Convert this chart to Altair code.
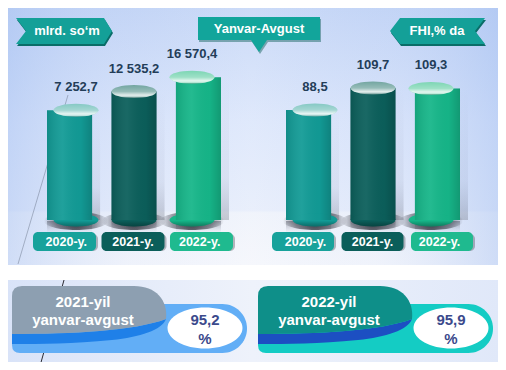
import altair as alt
import pandas as pd

# ---------------- data ----------------
years = ["2020-y.", "2021-y.", "2022-y."]
output_values = [7252.7, 12535.2, 16570.4]     # mlrd. so‘m
growth_values = [88.5, 109.7, 109.3]           # FHI, % da
bar_colors = ["#129b96", "#0b5f5b", "#16b689"]
cap_colors = ["#86c9c4", "#73a6a1", "#7dd6b4"]
box_colors = ["#17a29b", "#0b5e5a", "#1fba8f"]

summary_periods = ["2021-yil", "2022-yil"]
summary_subtitle = "yanvar-avgust"
summary_values = [95.2, 95.9]
tab_colors = ["#8d9fb1", "#0e8f89"]
ribbon_colors = ["#62aef6", "#14ccc4"]
stripe_colors = ["#1f80e8", "#1c4fc2"]

unit_left = "mlrd. so‘m"
unit_right = "FHI,% da"
period_title = "Yanvar-Avgust"

# ---------------- helpers ----------------
FONT = "Liberation Sans"
O = 8  # page margin: chart px = picture px - O


def P(v):
    return v - O


def fmt(v):
    return f"{v:,.1f}".replace(",", " ").replace(".", ",")


def gradient(stops, x1=0.0, y1=0.0, x2=0.0, y2=1.0):
    return alt.LinearGradient(
        gradient="linear",
        stops=[alt.GradientStop(offset=o, color=c) for o, c in stops],
        x1=x1, y1=y1, x2=x2, y2=y2,
    )


def ellipse(rx, ry, cx=0.0, cy=0.0):
    return (f"M{cx - rx} {cy} A{rx} {ry} 0 1 1 {cx + rx} {cy} "
            f"A{rx} {ry} 0 1 1 {cx - rx} {cy} Z")


ONE = pd.DataFrame({"k": [0]})


def deco_path(path, fill):
    return alt.Chart(ONE).mark_point(
        shape=path, size=4, filled=True, fill=fill, opacity=1, strokeWidth=0
    ).encode(x=alt.value(-O), y=alt.value(-O))


def deco_rect(x1, y1, x2, y2, fill):
    return alt.Chart(ONE).mark_rect(fill=fill).encode(
        x=alt.value(P(x1)), x2=alt.value(P(x2)),
        y=alt.value(P(y1)), y2=alt.value(P(y2)))


def deco_text(txt, x, y, size=13, color="white", weight="bold"):
    return alt.Chart(ONE).mark_text(
        text=txt, font=FONT, fontSize=size, fontWeight=weight, color=color,
        align="center", baseline="middle"
    ).encode(x=alt.value(P(x)), y=alt.value(P(y)))


def deco_line(x1, y1, x2, y2, color, width=1.0):
    return alt.Chart(ONE).mark_rule(color=color, strokeWidth=width).encode(
        x=alt.value(P(x1)), x2=alt.value(P(x2)),
        y=alt.value(P(y1)), y2=alt.value(P(y2)))


BOTTOM = P(220)


def side(values, bar_rng, y_dom, box_rng, box_pad):
    df = pd.DataFrame({
        "year": years, "value": values,
        "label": [fmt(v) for v in values],
        "bar": bar_colors, "cap": cap_colors, "box": box_colors,
    })
    base = alt.Chart(df)
    xb = alt.X("year:N", scale=alt.Scale(domain=years, range=bar_rng,
                                         paddingInner=0.3, paddingOuter=0), axis=None)
    xk = alt.X("year:N", scale=alt.Scale(domain=years, range=box_rng,
                                         paddingInner=box_pad, paddingOuter=0), axis=None)
    yv = alt.Y("value:Q", scale=alt.Scale(domain=y_dom, range=[BOTTOM, 0]), axis=None)
    ybase = alt.datum(y_dom[0])
    pt = dict(size=4, filled=True, opacity=1, strokeWidth=0)
    return [
        # reflection below the cylinders
        base.mark_rect(fill=gradient([(0, "rgba(70,75,90,0.45)"),
                                      (1, "rgba(160,165,180,0.05)")])
                       ).encode(x=xb, y=alt.value(BOTTOM + 1), y2=alt.value(P(232))),
        # soft side shadow
        base.mark_rect(xOffset=8, fill=gradient([(0, "rgba(120,130,160,0.0)"),
                                                 (0.7, "rgba(120,130,160,0.10)"),
                                                 (1, "rgba(90,95,110,0.30)")])
                       ).encode(x=xb, y=yv, y2=ybase),
        # floor shadow
        base.mark_point(shape=ellipse(32, 9), fill=alt.RadialGradient(
            gradient="radial",
            stops=[alt.GradientStop(offset=0, color="rgba(30,30,40,0.85)"),
                   alt.GradientStop(offset=0.6, color="rgba(30,30,40,0.45)"),
                   alt.GradientStop(offset=1, color="rgba(30,30,40,0)")],
            x1=0.5, y1=0.5, r1=0, x2=0.5, y2=0.5, r2=0.5), **pt
        ).encode(x=xb, y=alt.value(BOTTOM + 1)),
        # cylinder body
        base.mark_bar().encode(x=xb, y=yv, y2=ybase,
                               color=alt.Color("bar:N", scale=None)),
        base.mark_point(shape=ellipse(22.5, 6.5), **pt).encode(
            x=xb, y=alt.value(BOTTOM), color=alt.Color("bar:N", scale=None)),
        base.mark_point(shape=ellipse(22.5, 6.5), fill=gradient([
            (0, "rgba(0,0,0,0)"), (0.55, "rgba(0,0,0,0)"),
            (1, "rgba(0,20,20,0.35)")]), **pt).encode(x=xb, y=alt.value(BOTTOM)),
        # body shading
        base.mark_bar(fill=gradient([(0, "rgba(0,0,0,0.10)"),
                                     (0.35, "rgba(255,255,255,0.06)"),
                                     (0.75, "rgba(0,0,0,0.02)"),
                                     (1, "rgba(0,0,0,0.16)")], x2=1.0, y2=0.0)
                      ).encode(x=xb, y=yv, y2=ybase),
        # top cap
        base.mark_point(shape=ellipse(22.5, 6.5), **pt).encode(
            x=xb, y=yv, color=alt.Color("cap:N", scale=None)),
        base.mark_point(shape=ellipse(22.5, 6.5), fill=gradient([
            (0, "rgba(255,255,255,0.0)"), (0.5, "rgba(255,255,255,0.25)"),
            (0.78, "rgba(255,255,255,0.8)"), (0.9, "rgba(255,255,255,0.5)"),
            (1, "rgba(0,40,40,0.25)")]), **pt).encode(x=xb, y=yv),
        # value labels
        base.mark_text(font=FONT, fontSize=13, fontWeight="bold", color="#233d58",
                       baseline="middle", dy=-23).encode(x=xb, y=yv, text="label:N"),
        # year boxes
        base.mark_rect(cornerRadius=5, xOffset=2, yOffset=2, fill="rgba(60,60,70,0.35)"
                       ).encode(x=xk, y=alt.value(P(232)), y2=alt.value(P(251))),
        base.mark_rect(cornerRadius=5).encode(x=xk, y=alt.value(P(232)), y2=alt.value(P(251)),
                                              color=alt.Color("box:N", scale=None)),
        base.mark_text(font=FONT, fontSize=12.5, fontWeight="bold", color="white",
                       baseline="middle").encode(x=xk, y=alt.value(P(241.5)), text="year:N"),
    ]


# ---------------- background panels ----------------
layers = [
    deco_rect(4, 4, 500, 265, gradient([(0, "#c2d4f6"), (0.45, "#dae5fb"),
                                        (0.79, "#e5ecfb"), (0.80, "#eef2fb"),
                                        (1, "#f4f6fc")])),
    deco_rect(4, 4, 500, 265, gradient([(0, "rgba(160,188,240,0.45)"),
                                        (0.25, "rgba(200,215,245,0.12)"),
                                        (0.5, "rgba(255,255,255,0.15)"),
                                        (0.75, "rgba(200,215,245,0.10)"),
                                        (1, "rgba(160,188,240,0.45)")], x2=1.0, y2=0.0)),
    deco_rect(4, 280, 500, 366, gradient([(0, "#d9e3f8"), (0.5, "#eef2fb"),
                                          (1, "#e0e8f9")], x2=1.0, y2=0.0)),
    deco_line(68, 95, 18, 264, "rgba(70,80,100,0.45)", 0.8),
    deco_line(64, 280, 40, 366, "#2b2b33", 1.0),
]

# ---------------- cylinders ----------------
# value scales do not start at zero (as in the original infographic)
layers += side(output_values, [P(47), P(221)], [-23690, 36100], [P(33), P(233)], 0.08)
layers += side(growth_values, [P(286), P(460)], [-17.5, 186.8], [P(272), P(473)], 0.108)

# ---------------- banners ----------------
layers += [
    deco_path("M17 20 L105 20 L113 33 L105 46 L17 46 L27 33 Z", "#0a6d68"),
    deco_path("M16 18 L104 18 L112 31 L104 44 L16 44 L26 31 Z", "#14a098"),
    deco_text(unit_left, 67, 31, 13),
    deco_path("M199 19 L321 19 L321 42 L268 42 L260 54 L252 42 L199 42 Z", "rgba(10,90,85,0.45)"),
    deco_path("M198 17 L320 17 L320 40 L267 40 L259 52 L251 40 L198 40 Z", "#12a59b"),
    deco_text(period_title, 259, 28.5, 13),
    deco_path("M391 33 L401 20 L486 20 L476 33 L486 46 L401 46 Z", "#0a6d68"),
    deco_path("M390 31 L400 18 L485 18 L475 31 L485 44 L400 44 Z", "#14a098"),
    deco_text(unit_right, 437, 31, 13),
]

# ---------------- summary ribbons ----------------
sdf = pd.DataFrame({
    "period": summary_periods,
    "sub": [summary_subtitle] * len(summary_periods),
    "label": [fmt(v) for v in summary_values],
    "pct": ["%"] * len(summary_periods),
    "tab": tab_colors, "ribbon": ribbon_colors, "stripe": stripe_colors,
})
sb = alt.Chart(sdf)
xs = alt.X("period:N", scale=alt.Scale(type="point", domain=summary_periods,
                                       range=[P(12), P(258)], padding=0), axis=None)
top0 = alt.value(P(286))
spt = dict(size=4, filled=True, opacity=1, strokeWidth=0)
RIBBON = "M0 26 Q0 18 8 18 L210.5 18 A24.5 24.5 0 0 1 210.5 67 L8 67 Q0 67 0 59 Z"
STRIPE = "M0 48 C60 48 122 45 154 33 C150 44 128 51 100 54 C60 58 30 58 0 58 Z"
TAB = "M0 10 Q0 0 10 0 L122 0 C144 0 156 14 154 33 C122 45 60 48 0 48 Z"
layers += [
    sb.mark_point(shape=RIBBON, **spt).encode(x=xs, y=top0, color=alt.Color("ribbon:N", scale=None)),
    sb.mark_point(shape=STRIPE, **spt).encode(x=xs, y=top0, color=alt.Color("stripe:N", scale=None)),
    sb.mark_point(shape=TAB, **spt).encode(x=xs, y=top0, color=alt.Color("tab:N", scale=None)),
    sb.mark_point(shape=ellipse(37.5, 20.5, 193, 42), fill="white", **spt).encode(x=xs, y=top0),
    sb.mark_text(font=FONT, fontSize=15, fontWeight="bold", color="white", dx=71,
                 baseline="middle").encode(x=xs, y=alt.value(P(302)), text="period:N"),
    sb.mark_text(font=FONT, fontSize=15, fontWeight="bold", color="white", dx=71,
                 baseline="middle").encode(x=xs, y=alt.value(P(320)), text="sub:N"),
    sb.mark_text(font=FONT, fontSize=15, fontWeight="bold", color="#3b4a8c", dx=193,
                 baseline="middle").encode(x=xs, y=alt.value(P(320)), text="label:N"),
    sb.mark_text(font=FONT, fontSize=15, fontWeight="bold", color="#3b4a8c", dx=193,
                 baseline="middle").encode(x=xs, y=alt.value(P(339)), text="pct:N"),
]

chart = alt.layer(*layers).resolve_scale(
    x="independent", y="independent", color="independent"
).properties(
    width=490, height=354, padding=0, autosize=alt.AutoSizeParams(type="none"),
    background="white",
).configure_view(stroke="transparent")

chart.save("out.html", embed_options={"renderer": "svg", "actions": False})
